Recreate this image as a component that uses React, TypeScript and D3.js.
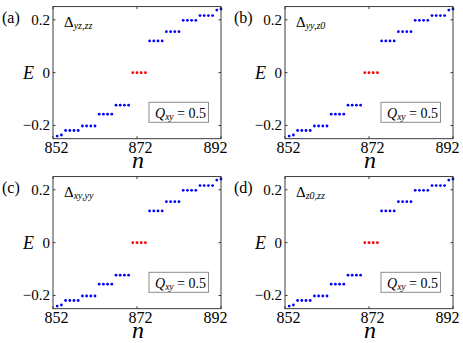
import React from "react";
import * as d3 from "d3";

const levelIndex = [853, 854, 855, 856, 857, 858, 859, 860, 861, 862, 863, 864, 865, 866, 867, 868, 869, 870, 871, 872, 873, 874, 875, 876, 877, 878, 879, 880, 881, 882, 883, 884, 885, 886, 887, 888, 889, 890, 891, 892];
const energies = [-0.24, -0.236, -0.219, -0.219, -0.219, -0.219, -0.202, -0.202, -0.202, -0.202, -0.157, -0.157, -0.157, -0.157, -0.123, -0.123, -0.123, -0.123, 0, 0, 0, 0, 0.12, 0.12, 0.12, 0.12, 0.155, 0.155, 0.155, 0.155, 0.198, 0.198, 0.198, 0.198, 0.216, 0.216, 0.216, 0.216, 0.237, 0.241];
const zeroModes = [871, 872, 873, 874];
const xTicks = [852, 872, 892];
const yTicks = [-0.2, 0, 0.2];
const panelLetters = ["(a)", "(b)", "(c)", "(d)"];
const pairingMain = ["Δ", "Δ", "Δ", "Δ"];
const pairingSub = ["yz,zz", "yy,z0", "xy,yy", "z0,zz"];
const legendLabel = "0.5";

const W = 463;
const H = 343;
const FONT = '"Liberation Serif", "Times New Roman", serif';

function Panel({ idx, ox, oy }: { idx: number; ox: number; oy: number }) {
  const x = d3.scaleLinear().domain([852, 892]).range([53, 221]);
  const y = d3.scaleLinear().domain([-0.25, 0.25]).range([138.7, 6.6]);
  const [x0, x1] = x.range();
  const [y0, y1] = y.range();
  const axisColor = "#262626";
  const tl = 2.5;
  const xLabelDx = [3.5, 3.5, -5.5];
  return (
    <g transform={`translate(${ox},${oy})`}>
      {levelIndex.map((n, i) => (
        <circle
          key={n}
          cx={x(n)}
          cy={y(energies[i])}
          r={1.4}
          fill={zeroModes.includes(n) ? "#ff0000" : "#0000ff"}
        />
      ))}
      <rect x={x0} y={y1} width={x1 - x0} height={y0 - y1} fill="none" stroke={axisColor} strokeWidth={0.9} />
      {xTicks.map((t) => (
        <g key={"xt" + t}>
          <line x1={x(t)} x2={x(t)} y1={y0} y2={y0 - tl} stroke={axisColor} strokeWidth={0.9} />
          <line x1={x(t)} x2={x(t)} y1={y1} y2={y1 + tl} stroke={axisColor} strokeWidth={0.9} />
        </g>
      ))}
      {yTicks.map((t) => (
        <g key={"yt" + t}>
          <line x1={x0} x2={x0 + tl} y1={y(t)} y2={y(t)} stroke={axisColor} strokeWidth={0.9} />
          <line x1={x1} x2={x1 - tl} y1={y(t)} y2={y(t)} stroke={axisColor} strokeWidth={0.9} />
        </g>
      ))}
      {xTicks.map((t, i) => (
        <text key={"xl" + t} x={x(t) + xLabelDx[i]} y={152.5} fontSize={16} textAnchor="middle" fontFamily={FONT} fill="#000">
          {t}
        </text>
      ))}
      {yTicks.map((t) => (
        <text key={"yl" + t} x={50} y={y(t) + 5} fontSize={15} textAnchor="end" fontFamily={FONT} fill="#000">
          {t === 0 ? "0" : t < 0 ? "−" + Math.abs(t).toFixed(1) : t.toFixed(1)}
        </text>
      ))}
      <text x={23} y={79} fontSize={18} fontStyle="italic" fontFamily={FONT} fill="#000">E</text>
      <text x={138} y={168} fontSize={24} fontStyle="italic" fontFamily={FONT} textAnchor="middle" fill="#000">n</text>
      <text x={2} y={23} fontSize={16} fontFamily={FONT} fill="#000">{panelLetters[idx]}</text>
      <text x={64} y={26.5} fontSize={15} fontFamily={FONT} fill="#000">
        {pairingMain[idx]}
        <tspan fontSize={10} fontStyle="italic" dy={2.5}>{pairingSub[idx]}</tspan>
      </text>
      <rect x={149} y={102.3} width={59.5} height={20} fill="#fff" stroke="#8c8c8c" strokeWidth={1} />
      <text x={155} y={117.5} fontSize={14} fontFamily={FONT} fill="#000">
        <tspan fontStyle="italic">Q</tspan>
        <tspan fontSize={9.5} fontStyle="italic" dy={2.5}>xy</tspan>
        <tspan dy={-2.5}>{" = " + legendLabel}</tspan>
      </text>
    </g>
  );
}

export default function App() {
  const offsets = [
    [0, 0],
    [232, 0],
    [0, 170],
    [232, 170],
  ];
  return (
    <svg width={W} height={H} style={{ position: "absolute", left: 0, top: 0, background: "#fff" }}>
      <rect width={W} height={H} fill="#fff" />
      {offsets.map(([ox, oy], i) => (
        <Panel key={i} idx={i} ox={ox} oy={oy} />
      ))}
    </svg>
  );
}
